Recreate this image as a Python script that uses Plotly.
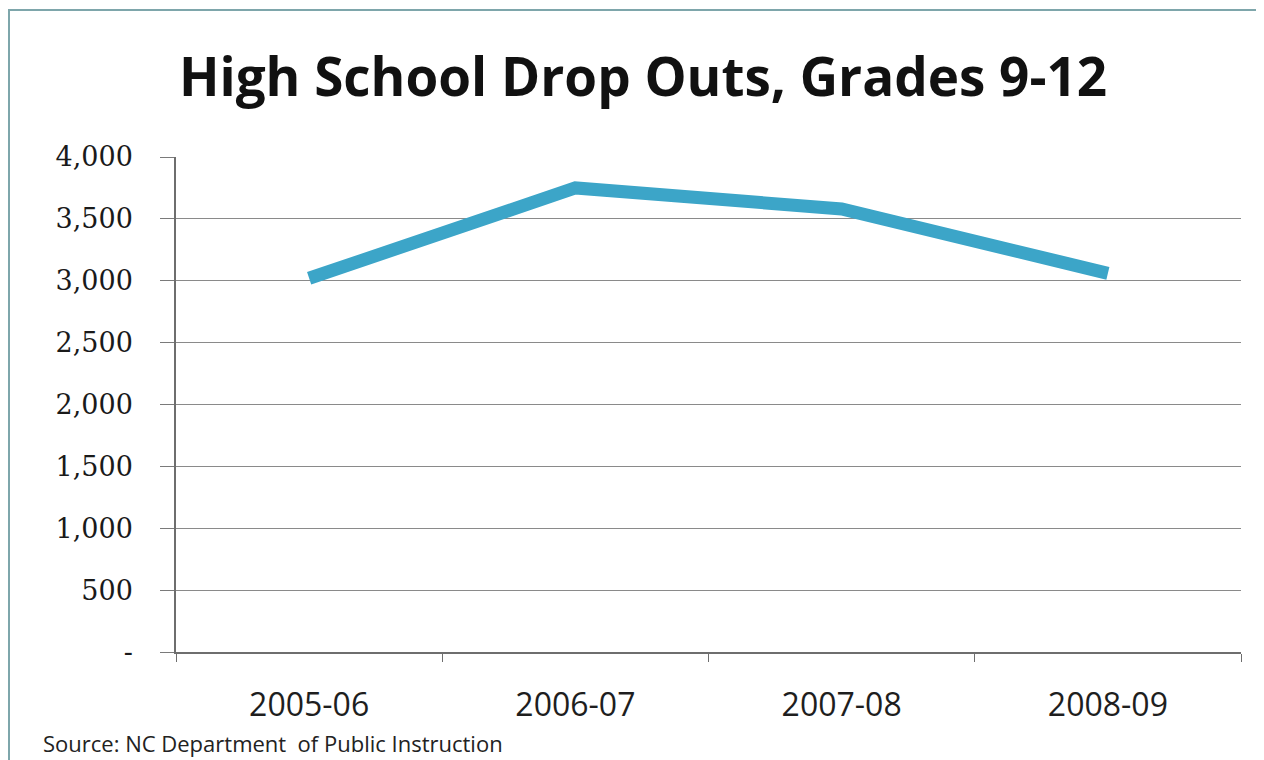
import plotly.graph_objects as go

categories = ["2005-06", "2006-07", "2007-08", "2008-09"]
dropouts = [3020, 3750, 3580, 3060]
y_tickvals = [0, 500, 1000, 1500, 2000, 2500, 3000, 3500, 4000]
y_ticktext = ["-", "500", "1,000", "1,500", "2,000", "2,500", "3,000", "3,500", "4,000"]

# page body has an 8px margin, so the figure is drawn 8px in from the window corner
OFF = 8
W, H = 1264 - OFF, 760 - OFF
L, T = 176 - OFF, 157 - OFF
R = W - (1241 - OFF)
B = H - (652 - OFF)
pw, ph = W - L - R, H - T - B

def px(x):
    return (x - OFF - L) / pw

def py(y):
    return (H - B - (y - OFF)) / ph

fig = go.Figure()
fig.add_trace(go.Scatter(
    x=categories, y=dropouts, mode="lines",
    line=dict(color="#3CA5C8", width=13),
    showlegend=False, hoverinfo="skip",
))

fig.update_layout(
    width=W, height=H,
    margin=dict(l=L, r=R, t=T, b=B),
    paper_bgcolor="white", plot_bgcolor="white",
    title=dict(text="<b>High School Drop Outs, Grades 9-12</b>",
               x=px(643), xref="paper", xanchor="center",
               y=1 - (77 - OFF) / H, yanchor="middle",
               font=dict(family="Open Sans, sans-serif", size=53, color="#111111")),
    xaxis=dict(
        type="category", tickson="boundaries", ticks="outside", ticklen=8,
        tickcolor="#6e6e6e", showline=True, linecolor="#6e6e6e", linewidth=1.5,
        showgrid=False, ticklabelstandoff=24,
        tickfont=dict(family="Open Sans, sans-serif", size=32, color="#1e1e1e"),
        range=[-0.5, 3.5],
    ),
    yaxis=dict(
        range=[0, 4000], tickvals=y_tickvals, ticktext=y_ticktext,
        ticks="outside", ticklen=14, tickcolor="#7a7a7a",
        showgrid=True, gridcolor="#8a8a8a", gridwidth=1.2,
        showline=True, linecolor="#6e6e6e", linewidth=1.5,
        zeroline=False, ticklabelstandoff=22,
        tickfont=dict(family="DejaVu Serif, serif", size=27, color="#1a1a1a"),
    ),
    shapes=[dict(type="rect", xref="paper", yref="paper",
                 x0=px(9), x1=px(1290), y0=py(790), y1=py(10),
                 line=dict(color="#7ea6ab", width=2), fillcolor="rgba(0,0,0,0)", layer="below")],
    annotations=[dict(text="Source: NC Department  of Public Instruction",
                      xref="paper", yref="paper", x=px(41), y=py(743),
                      xanchor="left", yanchor="middle", showarrow=False,
                      font=dict(family="Open Sans, sans-serif", size=22, color="#222222"))],
)

fig.write_html("out.html")
